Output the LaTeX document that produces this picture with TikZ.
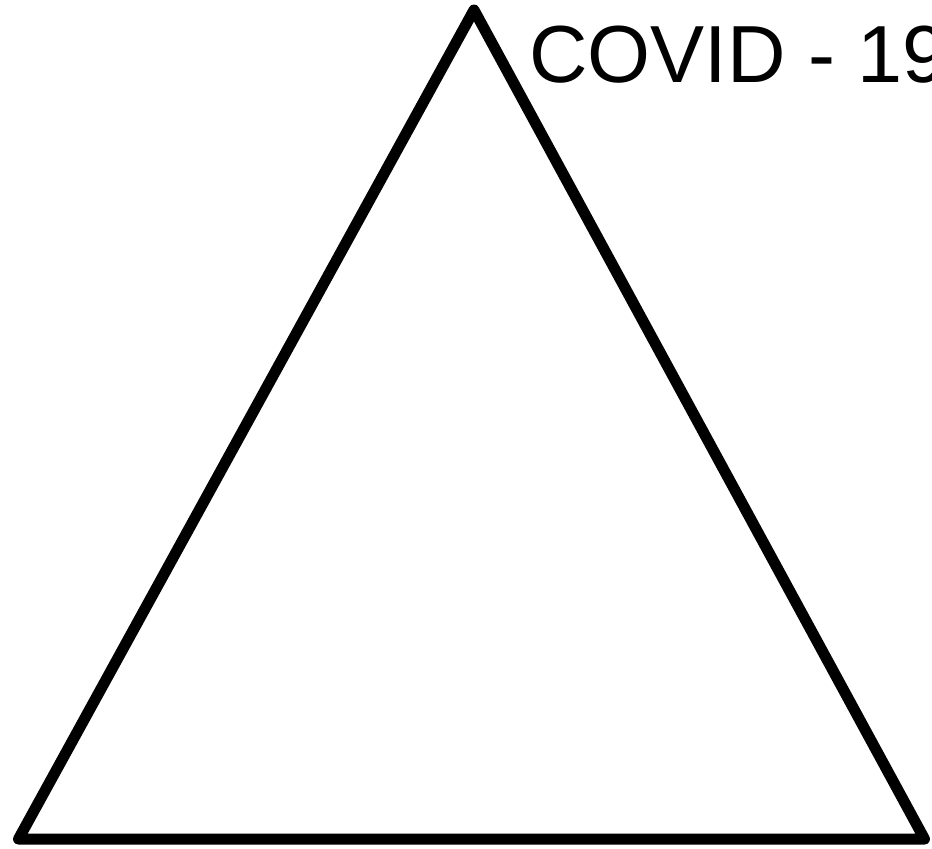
\documentclass[tikz,border=0pt]{standalone}
\usepackage{fontspec}
\setmainfont{Liberation Sans}
\begin{document}
\begin{tikzpicture}[x=1bp,y=-1bp,
  tri/.style={draw=black,line width=11bp,line join=round,line cap=round},
  label/.style={inner sep=0pt,anchor=base west,font=\fontsize{81bp}{97bp}\selectfont}]
\useasboundingbox (0,0) rectangle (932,849);
\coordinate (apex) at (474,10);
\coordinate (bl) at (18.5,839);
\coordinate (br) at (924.5,839);
\draw[tri] (apex) -- (bl) -- (br) -- cycle;
\node[label] (covid) at (529,82) {COVID - 19};
\end{tikzpicture}
\end{document}
